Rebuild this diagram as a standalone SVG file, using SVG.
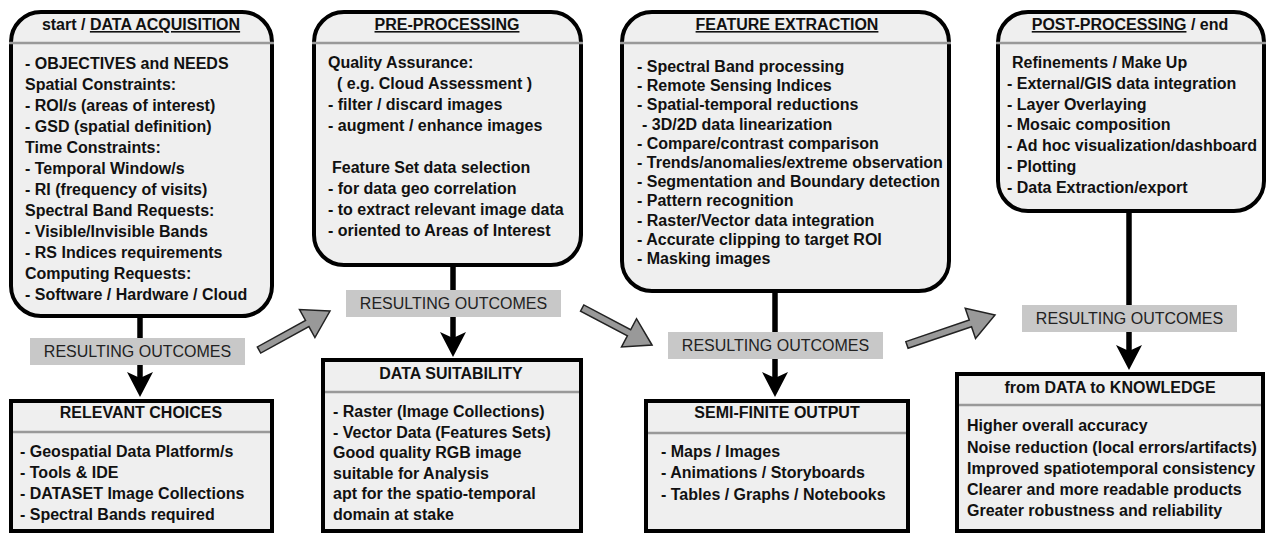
<svg xmlns="http://www.w3.org/2000/svg" width="1268" height="534" viewBox="0 0 1268 534">
<defs>
<style>
.box{fill:#efefef;stroke:#000;stroke-width:4}
.div{stroke:#999;stroke-width:2.5}
.t{font-family:"Liberation Sans",Arial,sans-serif;font-size:16px;font-weight:bold;fill:#111}
.h{font-family:"Liberation Sans",Arial,sans-serif;font-size:16px;font-weight:bold;fill:#111;text-anchor:middle}
.u{text-decoration:underline}
.lbl{fill:#c8c8c8}
.lt{font-family:"Liberation Sans",Arial,sans-serif;font-size:16px;fill:#222;text-anchor:middle}
.vl{stroke:#000;stroke-width:5.5}
.ah{fill:#000}
.ga{fill:#999;stroke:#222;stroke-width:1.5;stroke-linejoin:miter}
</style>
<polygon id="blk" points="-13,-25 0,-19 13,-25 0,0"/>
</defs>

<g id="connectors">
<line class="vl" x1="140" y1="318" x2="140" y2="380"/>
<use href="#blk" class="ah" x="140" y="397"/>
<line class="vl" x1="453" y1="267" x2="453" y2="340"/>
<use href="#blk" class="ah" x="453" y="357"/>
<line class="vl" x1="775" y1="293" x2="775" y2="380"/>
<use href="#blk" class="ah" x="775" y="397"/>
<line class="vl" x1="1129" y1="213" x2="1129" y2="353"/>
<use href="#blk" class="ah" x="1129" y="370"/>
<polygon class="ga" transform="translate(330,311) rotate(-28.8)" points="0,0 -26,-16 -26,-3.5 -81,-3.5 -81,3.5 -26,3.5 -26,16"/>
<polygon class="ga" transform="translate(652,345) rotate(27.9)" points="0,0 -26,-16 -26,-3.5 -79,-3.5 -79,3.5 -26,3.5 -26,16"/>
<polygon class="ga" transform="translate(995,315) rotate(-18.8)" points="0,0 -26,-16 -26,-3.5 -93,-3.5 -93,3.5 -26,3.5 -26,16"/>
</g>

<g id="label1"><rect class="lbl" x="30" y="338" width="215" height="27"/><text class="lt" x="137.5" y="357">RESULTING OUTCOMES</text></g>
<g id="label2"><rect class="lbl" x="346" y="290" width="215" height="27"/><text class="lt" x="453.5" y="309">RESULTING OUTCOMES</text></g>
<g id="label3"><rect class="lbl" x="668" y="332" width="215" height="27"/><text class="lt" x="775.5" y="351">RESULTING OUTCOMES</text></g>
<g id="label4"><rect class="lbl" x="1022" y="305" width="215" height="27"/><text class="lt" x="1129.5" y="324">RESULTING OUTCOMES</text></g>

<g id="data-acquisition">
<rect class="box" x="11" y="12" width="261" height="304" rx="30" ry="30"/>
<line class="div" x1="9" y1="43" x2="274" y2="43"/>
<text class="h" x="141" y="30">start / <tspan class="u">DATA ACQUISITION</tspan></text>
<text class="t" x="25" y="68.5">- OBJECTIVES and NEEDS</text>
<text class="t" x="25" y="89.5">Spatial Constraints:</text>
<text class="t" x="25" y="110.5">- ROI/s (areas of interest)</text>
<text class="t" x="25" y="131.5">- GSD (spatial definition)</text>
<text class="t" x="25" y="152.5">Time Constraints:</text>
<text class="t" x="25" y="173.5">- Temporal Window/s</text>
<text class="t" x="25" y="194.5">- RI (frequency of visits)</text>
<text class="t" x="25" y="215.5">Spectral Band Requests:</text>
<text class="t" x="25" y="236.5">- Visible/Invisible Bands</text>
<text class="t" x="25" y="257.5">- RS Indices requirements</text>
<text class="t" x="25" y="278.5">Computing Requests:</text>
<text class="t" x="25" y="299.5">- Software / Hardware / Cloud</text>
</g>

<g id="pre-processing">
<rect class="box" x="314" y="12" width="267" height="253" rx="30" ry="30"/>
<line class="div" x1="312" y1="43" x2="583" y2="43"/>
<text class="h" x="447" y="30"><tspan class="u">PRE-PROCESSING</tspan></text>
<text class="t" x="328" y="68">Quality Assurance:</text>
<text class="t" x="337" y="89">( e.g. Cloud Assessment )</text>
<text class="t" x="328" y="110">- filter / discard images</text>
<text class="t" x="328" y="131">- augment / enhance images</text>
<text class="t" x="332" y="173">Feature Set data selection</text>
<text class="t" x="328" y="194">- for data geo correlation</text>
<text class="t" x="328" y="215">- to extract relevant image data</text>
<text class="t" x="328" y="236">- oriented to Areas of Interest</text>
</g>

<g id="feature-extraction">
<rect class="box" x="622" y="12" width="327" height="279" rx="30" ry="30"/>
<line class="div" x1="620" y1="43" x2="951" y2="43"/>
<text class="h" x="787" y="30"><tspan class="u">FEATURE EXTRACTION</tspan></text>
<text class="t" x="637" y="72">- Spectral Band processing</text>
<text class="t" x="637" y="91.2">- Remote Sensing Indices</text>
<text class="t" x="637" y="110.4">- Spatial-temporal reductions</text>
<text class="t" x="642" y="129.6">- 3D/2D data linearization</text>
<text class="t" x="637" y="148.8">- Compare/contrast comparison</text>
<text class="t" x="637" y="168">- Trends/anomalies/extreme observation</text>
<text class="t" x="637" y="187.2">- Segmentation and Boundary detection</text>
<text class="t" x="637" y="206.4">- Pattern recognition</text>
<text class="t" x="637" y="225.6">- Raster/Vector data integration</text>
<text class="t" x="637" y="244.8">- Accurate clipping to target ROI</text>
<text class="t" x="637" y="264">- Masking images</text>
</g>

<g id="post-processing">
<rect class="box" x="998" y="12" width="266" height="199" rx="30" ry="30"/>
<line class="div" x1="996" y1="43" x2="1266" y2="43"/>
<text class="h" x="1130" y="30"><tspan class="u">POST-PROCESSING</tspan> / end</text>
<text class="t" x="1012" y="68">Refinements / Make Up</text>
<text class="t" x="1007" y="88.8">- External/GIS data integration</text>
<text class="t" x="1007" y="109.6">- Layer Overlaying</text>
<text class="t" x="1007" y="130.4">- Mosaic composition</text>
<text class="t" x="1007" y="151.2">- Ad hoc visualization/dashboard</text>
<text class="t" x="1007" y="172">- Plotting</text>
<text class="t" x="1007" y="192.8">- Data Extraction/export</text>
</g>

<g id="relevant-choices">
<rect class="box" x="11" y="401" width="261" height="130"/>
<line class="div" x1="13" y1="432" x2="270" y2="432"/>
<text class="h" x="141" y="418">RELEVANT CHOICES</text>
<text class="t" x="20" y="457">- Geospatial Data Platform/s</text>
<text class="t" x="20" y="478">- Tools &amp; IDE</text>
<text class="t" x="20" y="499">- DATASET Image Collections</text>
<text class="t" x="20" y="520">- Spectral Bands required</text>
</g>

<g id="data-suitability">
<rect class="box" x="323" y="360" width="258" height="171"/>
<line class="div" x1="325" y1="392" x2="579" y2="392"/>
<text class="h" x="451" y="379">DATA SUITABILITY</text>
<text class="t" x="333" y="417">- Raster (Image Collections)</text>
<text class="t" x="333" y="437.5">- Vector Data (Features Sets)</text>
<text class="t" x="333" y="458">Good quality RGB image</text>
<text class="t" x="333" y="478.5">suitable for Analysis</text>
<text class="t" x="333" y="499">apt for the spatio-temporal</text>
<text class="t" x="333" y="519.5">domain at stake</text>
</g>

<g id="semi-finite-output">
<rect class="box" x="646" y="401" width="262" height="130"/>
<line class="div" x1="648" y1="433" x2="906" y2="433"/>
<text class="h" x="777" y="418">SEMI-FINITE OUTPUT</text>
<text class="t" x="661" y="457">- Maps / Images</text>
<text class="t" x="661" y="478">- Animations / Storyboards</text>
<text class="t" x="661" y="500">- Tables / Graphs / Notebooks</text>
</g>

<g id="data-to-knowledge">
<rect class="box" x="957" y="374" width="306" height="157"/>
<line class="div" x1="959" y1="405" x2="1261" y2="405"/>
<text class="h" x="1110" y="393">from DATA to KNOWLEDGE</text>
<text class="t" x="967" y="431">Higher overall accuracy</text>
<text class="t" x="967" y="452.5">Noise reduction (local errors/artifacts)</text>
<text class="t" x="967" y="474">Improved spatiotemporal consistency</text>
<text class="t" x="967" y="495">Clearer and more readable products</text>
<text class="t" x="967" y="516">Greater robustness and reliability</text>
</g>
</svg>
